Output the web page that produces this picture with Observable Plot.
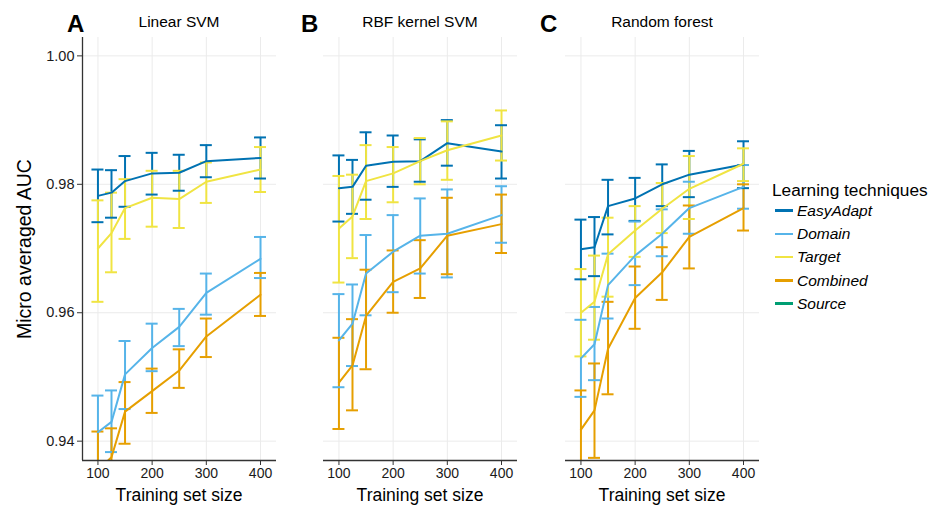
<!DOCTYPE html>
<html><head><meta charset="utf-8">
<script src="https://cdn.jsdelivr.net/npm/d3@7"></script>
<script src="https://cdn.jsdelivr.net/npm/@observablehq/plot@0.6"></script>
<style>
body{margin:0;background:#fff;}
#wrap{position:relative;width:932px;height:506px;overflow:hidden;font-family:"Liberation Sans",Arial,sans-serif;color:#000;background:#fff;}
.panel{position:absolute;top:0;}
.lbl{position:absolute;white-space:nowrap;line-height:1;}
</style></head><body><div id="wrap"></div>
<script>
// ---- data ----
const sizes = [100, 125, 150, 200, 250, 300, 400];
const models = ["Linear SVM", "RBF kernel SVM", "Random forest"];
const panelLetters = ["A", "B", "C"];
const techniques = ["EasyAdapt", "Domain", "Target", "Combined", "Source"];
const techColors = ["#0072B2", "#56B4E9", "#F0E442", "#E69F00", "#009E73"];
const xTicks = [100, 200, 300, 400];
const yTicks = [0.94, 0.96, 0.98, 1.00];

// Linear SVM
const linEasyMean = [0.9782, 0.9787, 0.9805, 0.9817, 0.9818, 0.9836, 0.9841];
const linEasyLo   = [0.9741, 0.9748, 0.9765, 0.9784, 0.9790, 0.9811, 0.9809];
const linEasyHi   = [0.9823, 0.9822, 0.9844, 0.9849, 0.9846, 0.9861, 0.9873];
const linDomMean  = [0.9414, 0.9430, 0.9504, 0.9545, 0.9578, 0.9631, 0.9684];
const linDomLo    = [0.9357, 0.9383, 0.9450, 0.9509, 0.9548, 0.9597, 0.9654];
const linDomHi    = [0.9471, 0.9479, 0.9556, 0.9583, 0.9606, 0.9661, 0.9718];
const linTgtMean  = [0.9700, 0.9724, 0.9763, 0.9779, 0.9777, 0.9804, 0.9823];
const linTgtLo    = [0.9617, 0.9663, 0.9715, 0.9734, 0.9732, 0.9771, 0.9788];
const linTgtHi    = [0.9775, 0.9787, 0.9808, 0.9821, 0.9821, 0.9834, 0.9858];
const linCmbMean  = [0.9355, 0.9375, 0.9446, 0.9478, 0.9510, 0.9563, 0.9628];
const linCmbLo    = [0.9295, 0.9330, 0.9396, 0.9444, 0.9483, 0.9531, 0.9595];
const linCmbHi    = [0.9415, 0.9420, 0.9492, 0.9513, 0.9543, 0.9591, 0.9662];

// RBF kernel SVM
const rbfEasyMean = [0.9794, 0.9796, 0.9829, 0.9835, 0.9836, 0.9864, 0.9851];
const rbfEasyLo   = [0.9742, 0.9754, 0.9776, 0.9796, 0.9804, 0.9829, 0.9809];
const rbfEasyHi   = [0.9845, 0.9838, 0.9881, 0.9876, 0.9870, 0.9900, 0.9892];
const rbfDomMean  = [0.9557, 0.9583, 0.9661, 0.9695, 0.9720, 0.9723, 0.9752];
const rbfDomLo    = [0.9484, 0.9517, 0.9596, 0.9632, 0.9661, 0.9655, 0.9709];
const rbfDomHi    = [0.9629, 0.9644, 0.9721, 0.9752, 0.9778, 0.9792, 0.9797];
const rbfTgtMean  = [0.9731, 0.9750, 0.9805, 0.9817, 0.9836, 0.9853, 0.9876];
const rbfTgtLo    = [0.9647, 0.9685, 0.9746, 0.9772, 0.9800, 0.9807, 0.9837];
const rbfTgtHi    = [0.9813, 0.9815, 0.9861, 0.9858, 0.9872, 0.9898, 0.9915];
const rbfCmbMean  = [0.9491, 0.9518, 0.9595, 0.9648, 0.9669, 0.9720, 0.9738];
const rbfCmbLo    = [0.9419, 0.9448, 0.9512, 0.9600, 0.9623, 0.9660, 0.9693];
const rbfCmbHi    = [0.9561, 0.9590, 0.9667, 0.9697, 0.9713, 0.9779, 0.9784];

// Random forest
const rfEasyMean = [0.9699, 0.9702, 0.9766, 0.9778, 0.9800, 0.9815, 0.9831];
const rfEasyLo   = [0.9652, 0.9657, 0.9722, 0.9743, 0.9766, 0.9780, 0.9794];
const rfEasyHi   = [0.9745, 0.9749, 0.9807, 0.9810, 0.9831, 0.9852, 0.9867];
const rfDomMean  = [0.9529, 0.9551, 0.9643, 0.9689, 0.9723, 0.9763, 0.9796];
const rfDomLo    = [0.9469, 0.9495, 0.9591, 0.9643, 0.9688, 0.9723, 0.9762];
const rfDomHi    = [0.9589, 0.9609, 0.9692, 0.9742, 0.9761, 0.9804, 0.9830];
const rfTgtMean  = [0.9600, 0.9617, 0.9691, 0.9728, 0.9762, 0.9793, 0.9832];
const rfTgtLo    = [0.9532, 0.9558, 0.9625, 0.9687, 0.9724, 0.9746, 0.9805];
const rfTgtHi    = [0.9668, 0.9689, 0.9748, 0.9766, 0.9802, 0.9844, 0.9856];
const rfCmbMean  = [0.9418, 0.9448, 0.9544, 0.9623, 0.9663, 0.9718, 0.9763];
const rfCmbLo    = [0.9357, 0.9374, 0.9473, 0.9575, 0.9620, 0.9669, 0.9728];
const rfCmbHi    = [0.9479, 0.9521, 0.9617, 0.9672, 0.9702, 0.9767, 0.9800];

// ---- build table ----
const series = [
  ["Linear SVM", "EasyAdapt", linEasyMean, linEasyLo, linEasyHi],
  ["Linear SVM", "Domain", linDomMean, linDomLo, linDomHi],
  ["Linear SVM", "Target", linTgtMean, linTgtLo, linTgtHi],
  ["Linear SVM", "Combined", linCmbMean, linCmbLo, linCmbHi],
  ["RBF kernel SVM", "EasyAdapt", rbfEasyMean, rbfEasyLo, rbfEasyHi],
  ["RBF kernel SVM", "Domain", rbfDomMean, rbfDomLo, rbfDomHi],
  ["RBF kernel SVM", "Target", rbfTgtMean, rbfTgtLo, rbfTgtHi],
  ["RBF kernel SVM", "Combined", rbfCmbMean, rbfCmbLo, rbfCmbHi],
  ["Random forest", "EasyAdapt", rfEasyMean, rfEasyLo, rfEasyHi],
  ["Random forest", "Domain", rfDomMean, rfDomLo, rfDomHi],
  ["Random forest", "Target", rfTgtMean, rfTgtLo, rfTgtHi],
  ["Random forest", "Combined", rfCmbMean, rfCmbLo, rfCmbHi]
];
const rows = [];
for (const [model, tech, m, lo, hi] of series)
  sizes.forEach((s, i) => rows.push({model, tech, size: s, mean: m[i], lo: lo[i], hi: hi[i]}));

const xDomain = [71.5, 429.5];
const yDomain = [0.93699, 1.00286];

const wrap = document.getElementById("wrap");
const layout = [
  {left: 0, width: 290, ml: 82, showY: true, letterX: 67},
  {left: 290, width: 250, ml: 33, showY: false, letterX: 301},
  {left: 540, width: 232, ml: 25, showY: false, letterX: 540}
];
const plotW = 194;

models.forEach((model, k) => {
  const L = layout[k];
  const data = rows.filter(d => d.model === model);
  const marks = [
    Plot.gridX(xTicks, {stroke: "#ebebeb", strokeOpacity: 1, strokeWidth: 1}),
    Plot.gridY(yTicks, {stroke: "#ebebeb", strokeOpacity: 1, strokeWidth: 1}),
    Plot.ruleX(data, {x: "size", y1: "lo", y2: "hi", stroke: "tech", strokeWidth: 2, clip: true}),
    Plot.ruleY(data, {x1: "size", x2: "size", y: "lo", stroke: "tech", strokeWidth: 2, insetLeft: -6, insetRight: -6, clip: true}),
    Plot.ruleY(data, {x1: "size", x2: "size", y: "hi", stroke: "tech", strokeWidth: 2, insetLeft: -6, insetRight: -6, clip: true}),
    Plot.line(data, {x: "size", y: "mean", z: "tech", stroke: "tech", strokeWidth: 2, clip: true}),
    Plot.ruleY([yDomain[0]], {stroke: "#333", strokeWidth: 1.3}),
    Plot.axisX(xTicks, {tickSize: 5, tickPadding: 3, fontSize: 14, label: null, stroke: "#333"})
  ];
  if (L.showY) {
    marks.push(Plot.ruleX([xDomain[0]], {stroke: "#333", strokeWidth: 1.3}));
    marks.push(Plot.axisY(yTicks, {tickSize: 5, tickPadding: 3, fontSize: 14.5, label: null, tickFormat: d3.format(".2f"), stroke: "#333"}));
  }
  const svg = Plot.plot({
    width: L.width, height: 506,
    marginLeft: L.ml, marginRight: L.width - L.ml - plotW,
    marginTop: 37, marginBottom: 46,
    x: {domain: xDomain, axis: null},
    y: {domain: yDomain, axis: null},
    color: {domain: techniques, range: techColors},
    style: {fontFamily: "Liberation Sans, Arial, sans-serif", fontSize: "14px", color: "#1a1a1a", background: "transparent", overflow: "visible"},
    marks
  });
  svg.classList.add("panel");
  svg.style.left = L.left + "px";
  wrap.appendChild(svg);

  const cx = L.left + L.ml + plotW / 2;
  const letter = document.createElement("div");
  letter.className = "lbl";
  letter.style.cssText = `left:${L.letterX}px;top:12px;font-size:24px;font-weight:bold;`;
  letter.textContent = panelLetters[k];
  wrap.appendChild(letter);

  const title = document.createElement("div");
  title.className = "lbl";
  title.style.cssText = `left:${cx}px;top:14px;font-size:15.5px;transform:translateX(-50%);`;
  title.textContent = model;
  wrap.appendChild(title);

  const xl = document.createElement("div");
  xl.className = "lbl";
  xl.style.cssText = `left:${cx}px;top:487px;font-size:17.5px;transform:translateX(-50%);`;
  xl.textContent = "Training set size";
  wrap.appendChild(xl);
});

const yl = document.createElement("div");
yl.className = "lbl";
yl.style.cssText = "left:25px;top:249px;font-size:19.5px;transform:translate(-50%,-50%) rotate(-90deg);";
yl.textContent = "Micro averaged AUC";
wrap.appendChild(yl);

// legend
const lt = document.createElement("div");
lt.className = "lbl";
lt.style.cssText = "left:772px;top:182px;font-size:17.3px;";
lt.textContent = "Learning techniques";
wrap.appendChild(lt);
techniques.forEach((t, i) => {
  const cy = 210.5 + i * 23.3;
  const item = document.createElement("div");
  item.className = "lbl";
  item.style.cssText = `left:775px;top:${cy - 9}px;height:18px;display:flex;align-items:center;`;
  item.innerHTML = `<span style="display:inline-block;width:18px;height:2.5px;background:${techColors[i]};margin-right:4px;"></span><span style="font-size:15.5px;font-style:italic;">${t}</span>`;
  wrap.appendChild(item);
});
</script></body></html>
